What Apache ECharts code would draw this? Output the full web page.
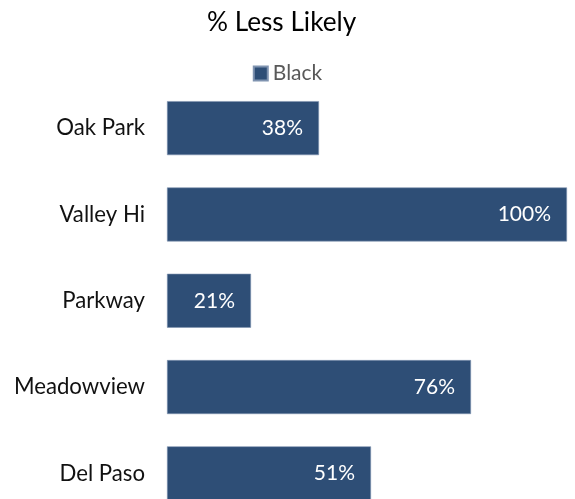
<!DOCTYPE html>
<html>
<head>
<meta charset="utf-8">
<script src="https://cdn.jsdelivr.net/npm/echarts@6/dist/echarts.min.js"></script>
<style>
html,body{margin:0;padding:0;background:#fff;}
#chart{width:575px;height:499px;}
</style>
</head>
<body>
<div id="chart"></div>
<script>
var categories = ['Oak Park', 'Valley Hi', 'Parkway', 'Meadowview', 'Del Paso'];
var blackValues = [38, 100, 21, 76, 51];
var seriesName = 'Black';
var titleText = '% Less Likely';

var chart = echarts.init(document.getElementById('chart'), null, {renderer: 'canvas'});
var FONT = 'Lato, "Liberation Sans", Arial, sans-serif';
chart.setOption({
  animation: false,
  backgroundColor: '#ffffff',
  title: {
    text: titleText,
    left: 202,
    top: 5,
    textStyle: {fontFamily: FONT, fontSize: 26.2, fontWeight: 'normal', color: '#000000'}
  },
  legend: {
    data: [seriesName],
    left: 'center',
    top: 58,
    itemWidth: 14,
    itemHeight: 14,
    itemGap: 10,
    icon: 'rect',
    textStyle: {fontFamily: FONT, fontSize: 21, color: '#595959'}
  },
  grid: {
    left: 167,
    right: 8,
    top: 85,
    height: 431.5,
    containLabel: false,
    outerBoundsMode: 'none'
  },
  xAxis: {
    type: 'value',
    min: 0,
    max: 100,
    show: false
  },
  yAxis: {
    type: 'category',
    data: categories,
    inverse: true,
    axisLine: {show: false},
    axisTick: {show: false},
    splitLine: {show: false},
    axisLabel: {fontFamily: FONT, fontSize: 22.2, color: '#111111', margin: 22}
  },
  series: [{
    name: seriesName,
    type: 'bar',
    data: blackValues,
    barWidth: 54,
    itemStyle: {color: '#2E4E76', borderColor: '#7F93B0', borderWidth: 0.6},
    label: {
      show: true,
      position: 'insideRight',
      distance: 16,
      formatter: '{c}%',
      fontFamily: FONT,
      fontSize: 21,
      color: '#ffffff'
    }
  }]
});
</script>
</body>
</html>
